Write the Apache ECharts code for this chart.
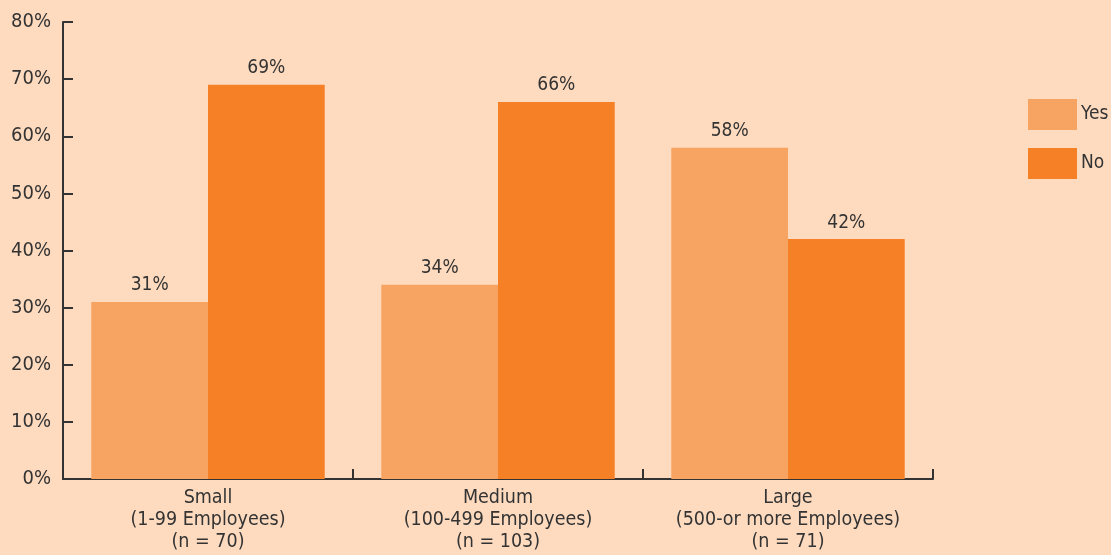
<!DOCTYPE html>
<html><head><meta charset="utf-8">
<script src="https://cdn.jsdelivr.net/npm/echarts@6/dist/echarts.min.js"></script>
<style>html,body{margin:0;padding:0;background:#FEDBBF;}#c{width:1111px;height:555px;}</style>
</head><body><div id="c"></div>
<script>
const categories = ['Small\n(1-99 Employees)\n(n = 70)', 'Medium\n(100-499 Employees)\n(n = 103)', 'Large\n(500-or more Employees)\n(n = 71)'];
const yesValues = [31, 34, 58];
const noValues = [69, 66, 42];
const seriesNames = ['Yes', 'No'];
const FONT = '"Liberation Sans Narrow","DejaVu Sans Condensed",sans-serif';
const TXT = '#333333';
const chart = echarts.init(document.getElementById('c'));
const labelCfg = {show: true, position: 'top', distance: 7, formatter: '{c}%', color: TXT, fontFamily: FONT, fontSize: 19};
chart.setOption({
  backgroundColor: '#FEDBBF',
  animation: false,
  grid: {left: 63, top: 22, width: 870, height: 457, containLabel: false},
  legend: {
    orient: 'vertical', left: 1023, top: 94, itemWidth: 49, itemHeight: 31, itemGap: 18,
    icon: 'rect', data: seriesNames,
    textStyle: {color: TXT, fontFamily: FONT, fontSize: 19, padding: [0, 0, 0, -1]}
  },
  xAxis: {
    type: 'category', data: categories, boundaryGap: true,
    axisLine: {lineStyle: {color: TXT, width: 2}},
    axisTick: {show: true, inside: true, length: 10, lineStyle: {color: TXT, width: 2}},
    axisLabel: {color: TXT, fontFamily: FONT, fontSize: 19.5, lineHeight: 22, margin: 8, interval: 0}
  },
  yAxis: {
    type: 'value', min: 0, max: 80, interval: 10,
    axisLine: {show: true, lineStyle: {color: TXT, width: 2}},
    axisTick: {show: true, inside: true, length: 10, lineStyle: {color: TXT, width: 2}},
    splitLine: {show: false},
    axisLabel: {formatter: '{value}%', color: TXT, fontFamily: FONT, fontSize: 20, margin: 12}
  },
  series: [
    {name: seriesNames[0], type: 'bar', data: yesValues, barGap: '0%', barCategoryGap: '19.5%', itemStyle: {color: '#F7A462'}, label: labelCfg},
    {name: seriesNames[1], type: 'bar', data: noValues, barGap: '0%', barCategoryGap: '19.5%', itemStyle: {color: '#F58025'}, label: labelCfg}
  ]
});
</script></body></html>
